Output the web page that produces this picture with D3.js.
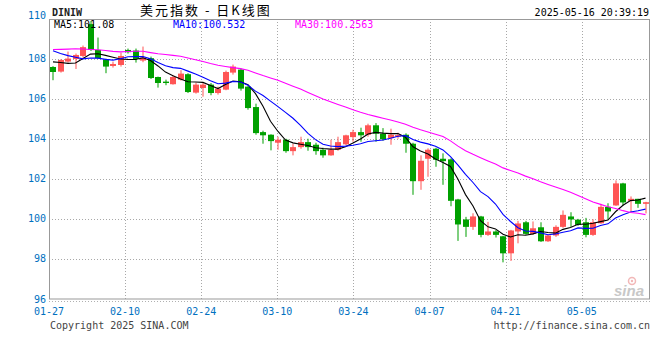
<!DOCTYPE html>
<html><head><meta charset="utf-8">
<script src="https://cdn.jsdelivr.net/npm/d3@7"></script>
<style>body{margin:0;background:#fff}svg{display:block}</style>
</head><body>
<svg id="c" width="660" height="360"></svg>
<script>
// ---- data ----
const dates = ["01-27","01-28","01-29","01-30","01-31",
"02-03","02-04","02-05","02-06","02-07","02-10","02-11","02-12","02-13","02-14",
"02-17","02-18","02-19","02-20","02-21","02-24","02-25","02-26","02-27","02-28",
"03-03","03-04","03-05","03-06","03-07","03-10","03-11","03-12","03-13","03-14",
"03-17","03-18","03-19","03-20","03-21","03-24","03-25","03-26","03-27","03-28","03-31",
"04-01","04-02","04-03","04-04","04-07","04-08","04-09","04-10","04-11",
"04-14","04-15","04-16","04-17","04-18","04-21","04-22","04-23","04-24","04-25",
"04-28","04-29","04-30","05-01","05-02","05-05","05-06","05-07","05-08","05-09",
"05-12","05-13","05-14","05-15","05-16"];
const opens = [107.58,107.35,107.85,107.98,108.13,109.72,108.43,107.95,107.63,107.68,
108.43,108.40,107.90,108.02,107.08,106.85,106.72,106.95,107.22,106.30,
106.53,106.70,106.28,106.45,107.30,107.45,106.60,105.58,104.33,104.20,
103.80,103.95,103.38,103.58,103.83,103.70,103.45,103.17,103.45,103.72,
104.08,104.33,104.20,104.67,104.25,104.03,104.10,104.20,103.75,101.88,
103.00,103.50,103.00,102.97,100.97,99.97,99.60,100.12,99.20,99.37,
99.13,98.28,99.37,99.83,99.25,99.58,98.88,99.17,99.60,100.12,
99.96,99.83,99.20,99.78,100.60,100.67,101.77,100.90,101.00,100.75];
const highs = [107.62,107.97,108.35,108.25,108.65,109.88,109.05,108.00,107.85,108.30,
108.50,108.50,108.60,108.10,107.10,106.95,107.17,107.42,107.27,106.80,
106.83,106.78,106.60,107.40,107.70,107.50,106.62,105.75,104.40,104.22,
104.10,104.00,103.75,104.10,104.00,103.80,103.55,103.95,104.10,104.20,
104.45,104.55,104.75,104.78,104.53,104.50,104.30,104.27,103.80,103.17,
103.52,103.55,103.27,103.02,101.00,100.10,100.28,100.15,99.85,99.45,
99.15,99.45,99.90,99.90,99.87,99.83,99.20,99.68,100.42,100.33,
100.00,100.05,99.98,100.75,100.78,101.92,101.80,101.12,101.00,100.85];
const lows = [106.92,107.30,107.80,107.48,108.05,108.38,107.98,107.27,107.55,107.60,
108.25,107.80,107.82,106.98,106.55,106.67,106.70,106.90,106.28,106.25,
106.10,106.17,106.20,106.42,107.20,106.40,105.45,104.20,103.75,103.42,
103.45,103.30,103.17,103.50,103.40,103.20,103.05,103.15,103.40,103.68,
103.85,103.85,104.10,103.85,103.90,103.70,104.00,103.30,101.20,101.45,
102.10,102.60,101.70,100.63,98.90,99.10,99.45,99.08,99.15,99.07,
97.83,97.90,98.78,99.20,99.20,98.85,98.85,99.10,99.55,99.60,
99.65,99.08,99.15,99.75,99.98,100.65,100.67,100.33,100.55,100.27];
const closes = [107.33,107.93,108.00,108.18,108.57,108.43,108.02,107.60,107.73,108.13,
108.32,107.98,108.05,107.03,106.78,106.78,107.08,107.25,106.33,106.70,
106.70,106.28,106.50,107.33,107.60,106.50,105.53,104.28,104.17,103.88,
103.95,103.38,103.58,103.83,103.58,103.38,103.17,103.45,103.83,104.17,
104.33,104.17,104.67,104.25,103.97,104.20,104.18,103.75,101.88,102.90,
103.45,102.95,102.88,100.90,99.72,99.60,100.12,99.20,99.37,99.20,
98.28,99.42,99.77,99.25,99.53,98.88,99.17,99.60,100.20,99.97,
99.70,99.20,99.83,100.60,100.37,101.77,100.82,101.00,100.75,100.83];
// closes of the 29 sessions before 01-27 (needed for the moving averages at the left edge)
const priorCloses = [107.77,107.62,107.70,108.77,109.17,108.57,108.77,108.97,108.87,
107.62,107.72,108.12,109.02,108.52,107.92,108.32,108.62,108.82,109.27,109.52,
109.30,109.10,109.00,109.35,108.00,108.10,108.20,108.10,107.45];
const maPeriods = [5, 10, 30];
const maLabels = ["MA5:101.08", "MA10:100.532", "MA30:100.2563"];
const yTicks = [96, 98, 100, 102, 104, 106, 108, 110];
const xTickDates = ["01-27","02-10","02-24","03-10","03-24","04-07","04-21","05-05"];
const titleCode = "DINIW";
const titleText = "美元指数 - 日K线图";
const stamp = "2025-05-16 20:39:19";

// ---- layout ----
const L = 49, R = 649.5, T = 19, B = 299;
const upColor = "#ff5555", downColor = "#00a000";
const maColors = ["#000000", "#0000ff", "#ff00ff"];
const axisBlue = "#0070c0";
const mono = "'DejaVu Sans Mono', monospace";

const svg = d3.select("#c");
const x = d3.scaleBand().domain(dates).range([L + 0.25, L + 0.25 + dates.length * 7.5]).padding(0);
const y = d3.scaleLinear().domain([96, 110]).range([B, T - 0.5]);
// grid/label positions (slightly wider step than candle step, as in the reference)
const gx = d3.scaleLinear().domain([0, 70]).range([L, 581.7]);
const cx = d => x(d) + x.bandwidth() / 2;

// grid
const g = svg.append("g");
g.selectAll("line.h").data(yTicks.filter(v => v > 96 && v < 110)).join("line")
  .attr("x1", L).attr("x2", R).attr("y1", d => Math.round(y(d)) + 0.5).attr("y2", d => Math.round(y(d)) + 0.5)
  .attr("stroke", "#a8a8a8").attr("stroke-dasharray", "1,2");
g.selectAll("line.v").data(xTickDates.slice(1)).join("line")
  .attr("x1", d => Math.round(gx(dates.indexOf(d))) + 0.5).attr("x2", d => Math.round(gx(dates.indexOf(d))) + 0.5)
  .attr("y1", T).attr("y2", B).attr("stroke", "#a8a8a8").attr("stroke-dasharray", "1,2");
// dotted line under the axis
svg.append("line").attr("x1", L).attr("x2", R + 2).attr("y1", B + 2.5).attr("y2", B + 2.5)
  .attr("stroke", "#b0b0b0").attr("stroke-dasharray", "1,2");

// sina watermark
const wm = svg.append("g");
wm.append("circle").attr("cx", 632).attr("cy", 281).attr("r", 3.5).attr("fill", "none").attr("stroke", "#f2b8b8").attr("stroke-width", 1.5);
wm.append("circle").attr("cx", 632).attr("cy", 281).attr("r", 1.2).attr("fill", "#f2b8b8");
wm.append("text").attr("x", 614).attr("y", 296).attr("font-family", "Arial, 'Liberation Sans', sans-serif")
  .attr("font-size", 15).attr("font-style", "italic").attr("font-weight", "bold").attr("fill", "#c8c8c8").text("sina");

// candles
const data = dates.map((d, i) => ({d, o: opens[i], h: highs[i], l: lows[i], c: closes[i]}));
const cg = svg.append("g");
cg.selectAll("rect.w").data(data).join("rect")
  .attr("x", d => Math.round(cx(d.d) - 3) + 2.5).attr("width", 1)
  .attr("y", d => y(d.h)).attr("height", d => Math.max(1, y(d.l) - y(d.h)))
  .attr("fill", d => d.c >= d.o ? upColor : downColor);
cg.selectAll("rect.b").data(data).join("rect")
  .attr("x", d => Math.round(cx(d.d) - 3)).attr("width", 6)
  .attr("y", d => y(Math.max(d.o, d.c))).attr("height", d => Math.max(1, Math.abs(y(d.o) - y(d.c))))
  .attr("fill", d => d.c >= d.o ? upColor : downColor);

// moving averages
const all = priorCloses.concat(closes);
const off = priorCloses.length;
maPeriods.forEach((p, k) => {
  const vals = dates.map((d, i) => ({d, v: d3.mean(all.slice(off + i - p + 1, off + i + 1))}));
  svg.append("path").datum(vals)
    .attr("d", d3.line().x(e => cx(e.d)).y(e => y(e.v)))
    .attr("fill", "none").attr("stroke", maColors[k]).attr("stroke-width", 1.1);
});

// border
svg.append("rect").attr("x", L + 0.5).attr("y", T + 0.5).attr("width", R - L - 0.5).attr("height", B - T - 0.5)
  .attr("fill", "none").attr("stroke", "#999");

// y labels
svg.selectAll("text.y").data(yTicks).join("text")
  .attr("x", 46).attr("y", d => d === 110 ? y(d) : y(d) + 3.5)
  .attr("text-anchor", "end").attr("font-family", mono).attr("font-size", 10).attr("fill", axisBlue).text(d => d);
// x labels
svg.selectAll("text.x").data(xTickDates).join("text")
  .attr("x", d => gx(dates.indexOf(d))).attr("y", 315)
  .attr("text-anchor", "middle").attr("font-family", mono).attr("font-size", 10).attr("fill", axisBlue).text(d => d);

// titles
svg.append("text").attr("x", 52).attr("y", 16).attr("font-family", mono).attr("font-size", 10)
  .attr("font-weight", "bold").attr("fill", "#222").text(titleCode);
svg.append("text").attr("x", 140).attr("y", 14.5).attr("font-family", "'Noto Sans CJK SC', sans-serif")
  .attr("font-size", 13).attr("letter-spacing", 2).attr("fill", "#000").text(titleText);
svg.append("text").attr("x", 649).attr("y", 16).attr("text-anchor", "end").attr("font-family", mono)
  .attr("font-size", 10).attr("fill", "#000").text(stamp);
const legX = [54, 173, 295];
maLabels.forEach((t, k) => {
  svg.append("text").attr("x", legX[k]).attr("y", 27.5).attr("font-family", mono).attr("font-size", 10)
    .attr("fill", maColors[k]).text(t);
});
// footer
svg.append("text").attr("x", 50).attr("y", 329).attr("font-family", mono).attr("font-size", 10)
  .attr("fill", "#444").text("Copyright 2025 SINA.COM");
svg.append("text").attr("x", 650).attr("y", 329).attr("text-anchor", "end").attr("font-family", mono)
  .attr("font-size", 10).attr("fill", "#444").text("http://finance.sina.com.cn");
</script>
</body></html>
